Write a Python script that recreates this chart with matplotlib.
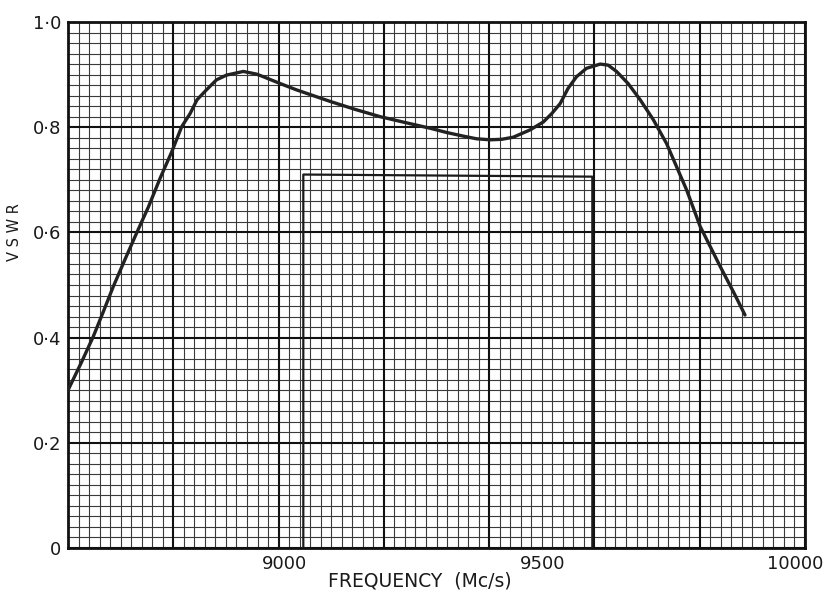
import numpy as np
import matplotlib
matplotlib.use("Agg")
import matplotlib.pyplot as plt
from matplotlib.transforms import ScaledTranslation

# VSWR curve (frequency in Mc/s)
freq = [8600, 8626, 8648, 8667, 8686, 8708, 8730, 8753, 8775, 8797, 8816, 8832,
        8845, 8863, 8882, 8901, 8933, 8958, 8971, 9003, 9034, 9098, 9145, 9193,
        9240, 9288, 9319, 9351, 9376, 9402, 9424, 9446, 9478, 9503, 9519, 9535,
        9550, 9566, 9585, 9611, 9626, 9642, 9664, 9687, 9712, 9737, 9756, 9775,
        9801, 9820, 9839, 9864, 9886]
vswr = [0.300, 0.354, 0.402, 0.449, 0.497, 0.548, 0.598, 0.649, 0.703, 0.753, 0.801, 0.826,
        0.852, 0.871, 0.890, 0.899, 0.906, 0.901, 0.896, 0.883, 0.871, 0.849, 0.834, 0.820,
        0.809, 0.798, 0.790, 0.783, 0.778, 0.776, 0.777, 0.781, 0.795, 0.810, 0.826, 0.845,
        0.874, 0.896, 0.912, 0.920, 0.918, 0.906, 0.883, 0.852, 0.814, 0.769, 0.725, 0.681,
        0.611, 0.573, 0.535, 0.487, 0.443]

# rectangular specification box
box_x = [9047, 9047, 9596, 9596]
box_y = [0.0, 0.710, 0.706, 0.0]

xticks = [9000, 9500, 10000]
xticklabels = ["9000", "9500", "10000"]
xlabel_shift = [6, 1, -10]   # hand-lettered labels sit a little off the lines (px)
yticks = [0.0, 0.2, 0.4, 0.6, 0.8, 1.0]
yticklabels = ["0", "0·2", "0·4", "0·6", "0·8", "1·0"]

x_min, x_max = 8600, 10000

fig = plt.figure(figsize=(8.28, 5.97), dpi=100)
ax = fig.add_axes([68 / 828, 49 / 597, 737 / 828, 526 / 597])

# graph paper: fine lines every 20 Mc/s / 0.02, heavy every 200 Mc/s / 0.2
gx = np.arange(x_min, x_max + 1, 20)
gy = np.round(np.arange(0, 1.0001, 0.02), 2)
heavy_x = (gx - x_min) % 200 == 0
heavy_y = np.isclose(np.round(gy / 0.2) * 0.2, gy)
ax.vlines(gx[~heavy_x], 0, 1, colors="#3a3a3a", linewidth=0.8, zorder=1)
ax.hlines(gy[~heavy_y], x_min, x_max, colors="#3a3a3a", linewidth=0.8, zorder=1)
ax.vlines(gx[heavy_x], 0, 1, colors="#111111", linewidth=1.5, zorder=1)
ax.hlines(gy[heavy_y], x_min, x_max, colors="#111111", linewidth=1.5, zorder=1)

ax.plot(box_x, box_y, color="#1a1a1a", linewidth=1.6, zorder=3)
ax.plot(freq, vswr, color="#222222", linewidth=2.4, solid_capstyle="round",
        solid_joinstyle="round", zorder=4)

ax.set_xlim(x_min, x_max)
ax.set_ylim(0, 1.0)
ax.set_xticks(xticks)
ax.set_xticklabels(xticklabels)
ax.set_yticks(yticks)
ax.set_yticklabels(yticklabels)
ax.tick_params(length=0, labelsize=13, colors="#1a1a1a", pad=5)
for lab, dx in zip(ax.get_xticklabels(), xlabel_shift):
    lab.set_transform(lab.get_transform() + ScaledTranslation(dx / 100, 0, fig.dpi_scale_trans))
for sp in ax.spines.values():
    sp.set_linewidth(2.0)
    sp.set_color("#111111")

ax.set_xlabel("FREQUENCY  (Mc/s)", fontsize=13.5, color="#1a1a1a")
ax.xaxis.set_label_coords(0.478, -0.044)
ax.set_ylabel("V S W R", fontsize=10.5, color="#1a1a1a")
ax.yaxis.set_label_coords(-0.062, 0.60)

plt.savefig("out.png", dpi=100)
